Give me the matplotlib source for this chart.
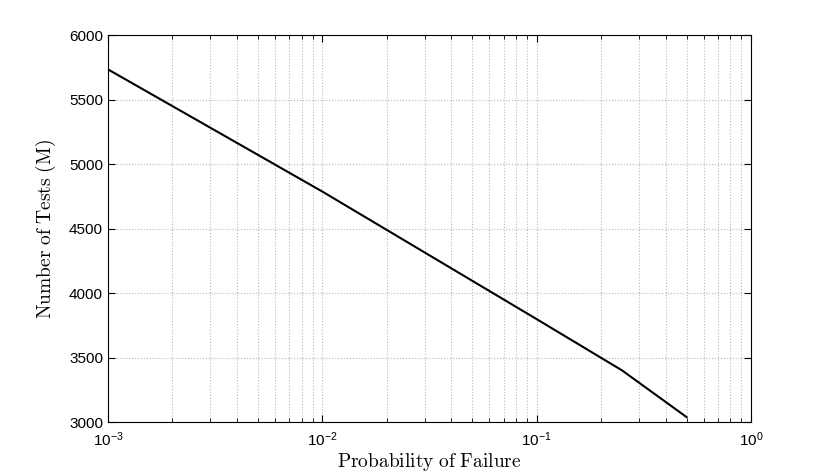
import numpy as np
import matplotlib
matplotlib.use('Agg')
import matplotlib.pyplot as plt
from matplotlib.ticker import LogLocator, LogFormatterMathtext

plt.rcParams['mathtext.fontset'] = 'cm'
plt.rcParams['font.family'] = ['Liberation Sans', 'DejaVu Sans']

# values
p_fail = [0.001, 0.01, 0.1, 0.25, 0.5]
n_tests = [5735, 4788, 3799, 3402, 3040]

fig = plt.figure(figsize=(8.3, 4.75), dpi=100)
ax = fig.add_axes([0.130, 0.111, 0.775, 0.815])

ax.semilogx(p_fail, n_tests, color='k', lw=1.5)

ax.set_xlim(1e-3, 1)
ax.set_ylim(3000, 6000)
ax.set_yticks(np.arange(3000, 6001, 500))
ax.xaxis.set_major_locator(LogLocator(base=10, numticks=10))
ax.xaxis.set_minor_locator(LogLocator(base=10, subs=np.arange(2, 10), numticks=20))
ax.xaxis.set_major_formatter(LogFormatterMathtext())

ax.grid(True, which='major', axis='both', color='#b8b8b8', ls=':', lw=0.8)
ax.grid(True, which='minor', axis='x', color='#b8b8b8', ls=':', lw=0.8)

ax.tick_params(which='both', direction='in', top=True, right=True, labelsize=11)
ax.tick_params(which='major', length=5)
ax.tick_params(which='minor', length=3)
ax.tick_params(axis='x', pad=6)
for s in ax.spines.values():
    s.set_linewidth(0.8)

ax.set_xlabel(r'$\mathrm{Probability\ of\ Failure}$', fontsize=14, labelpad=1)
ax.set_ylabel(r'$\mathrm{Number\ of\ Tests\ (M)}$', fontsize=14, labelpad=8)

fig.savefig('out.png', dpi=100)
